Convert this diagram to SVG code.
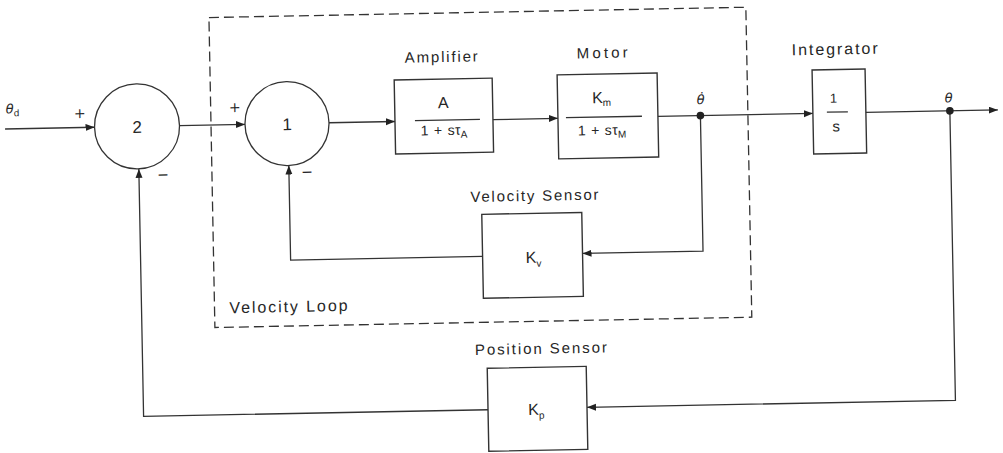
<svg xmlns="http://www.w3.org/2000/svg" width="1003" height="453" viewBox="0 0 1003 453">
<style>
.ln{fill:none;stroke:#333;stroke-width:1.3}
.bx{fill:none;stroke:#333;stroke-width:1.4}
.dash{fill:none;stroke:#333;stroke-width:1.3;stroke-dasharray:10 5}
.t{font-family:"Liberation Sans",Arial,sans-serif;fill:#262626}
.lbl{font-size:15px}
.sg{font-family:"DejaVu Sans","Liberation Sans",sans-serif;fill:#262626;font-size:14px;text-anchor:middle}
.m{text-anchor:middle}
.th{font-family:"DejaVu Sans","Liberation Sans",sans-serif;font-style:italic;fill:#262626;font-size:13px}
</style>
<defs>
<marker id="arr" markerUnits="userSpaceOnUse" markerWidth="10" markerHeight="8" refX="9" refY="3.5" orient="auto"><path d="M0,0 L9,3.5 L0,7 z" fill="#222"/></marker>
</defs>
<rect width="1003" height="453" fill="#fff"/>
<g transform="rotate(-1.1 500 226)">
  <g id="velocity-loop">
    <rect class="dash" x="213" y="12" width="537" height="310"/>
    <text class="t" x="228" y="308" font-size="16" textLength="118">Velocity Loop</text>
  </g>
  <g id="connectors">
    <path class="ln" d="M7 119.5 H96.5" marker-end="url(#arr)"/>
    <path class="ln" d="M181.5 119.5 H247" marker-end="url(#arr)"/>
    <path class="ln" d="M331 119.5 H397" marker-end="url(#arr)"/>
    <path class="ln" d="M495 119.5 H560" marker-end="url(#arr)"/>
    <path class="ln" d="M660 119.5 H815" marker-end="url(#arr)"/>
    <path class="ln" d="M868 119.5 H1000" marker-end="url(#arr)"/>
    <path class="ln" d="M702.5 119.5 V255 H582" marker-end="url(#arr)"/>
    <path class="ln" d="M482 256 H290 V161.5" marker-end="url(#arr)"/>
    <path class="ln" d="M952 119.5 V409 H583.5" marker-end="url(#arr)"/>
    <path class="ln" d="M484.5 409.5 H140 V162" marker-end="url(#arr)"/>
  </g>
  <g id="input">
    <text class="th" x="8" y="104">θ<tspan font-size="9" dy="3" font-style="normal">d</tspan></text>
  </g>
  <g id="sum2">
    <circle class="ln" cx="139" cy="119.5" r="42.5"/>
    <text class="t m" x="139" y="126" font-size="17">2</text>
    <text class="sg" x="82" y="110">+</text>
    <text class="sg" x="164" y="173">−</text>
  </g>
  <g id="sum1">
    <circle class="ln" cx="289" cy="119.5" r="42"/>
    <text class="t m" x="289" y="126" font-size="17">1</text>
    <text class="sg" x="237" y="107">+</text>
    <text class="sg" x="308" y="173">−</text>
  </g>
  <g id="amplifier">
    <text class="t lbl" x="408" y="61" textLength="73">Amplifier</text>
    <rect class="bx" x="397" y="78" width="98" height="74"/>
    <text class="t m" x="445.5" y="107" font-size="16">A</text>
    <line class="ln" x1="417" y1="119" x2="482" y2="119"/>
    <text class="t m" x="446" y="134" font-size="14" letter-spacing="0.3" word-spacing="1">1 + sτ<tspan font-size="10" dy="3">A</tspan></text>
  </g>
  <g id="motor">
    <text class="t lbl" x="580" y="60" textLength="51">Motor</text>
    <rect class="bx" x="560" y="76" width="100" height="84"/>
    <text class="t m" x="604" y="105" font-size="16">K<tspan font-size="10" dy="3">m</tspan></text>
    <line class="ln" x1="568" y1="119" x2="644" y2="119"/>
    <text class="t m" x="604" y="137" font-size="14" letter-spacing="0.3" word-spacing="1">1 + sτ<tspan font-size="10" dy="3">M</tspan></text>
  </g>
  <g id="velocity-junction">
    <circle cx="702.5" cy="119.5" r="3.8" fill="#222"/>
    <text class="th m" x="703" y="108" font-size="12">θ̇</text>
  </g>
  <g id="integrator">
    <text class="t" x="795" y="61" font-size="16" textLength="86">Integrator</text>
    <rect class="bx" x="815" y="76" width="53" height="84"/>
    <text class="t m" x="836" y="109" font-size="13">1</text>
    <line class="ln" x1="829" y1="118.5" x2="850" y2="118.5"/>
    <text class="t m" x="838" y="138" font-size="15">s</text>
  </g>
  <g id="position-junction">
    <circle cx="952" cy="119.5" r="3.8" fill="#222"/>
    <text class="th m" x="951" y="111" font-size="12">θ</text>
  </g>
  <g id="velocity-sensor">
    <text class="t lbl" x="471" y="201.5" textLength="128">Velocity Sensor</text>
    <rect class="bx" x="482" y="214" width="100" height="84"/>
    <text class="t" x="525" y="263.5" font-size="16">K<tspan font-size="10" dy="4">v</tspan></text>
  </g>
  <g id="position-sensor">
    <text class="t lbl" x="472.5" y="354.5" textLength="132">Position Sensor</text>
    <rect class="bx" x="484.5" y="368" width="99" height="83"/>
    <text class="t" x="524.5" y="415.5" font-size="16">K<tspan font-size="10" dy="4">p</tspan></text>
  </g>
</g>
</svg>
